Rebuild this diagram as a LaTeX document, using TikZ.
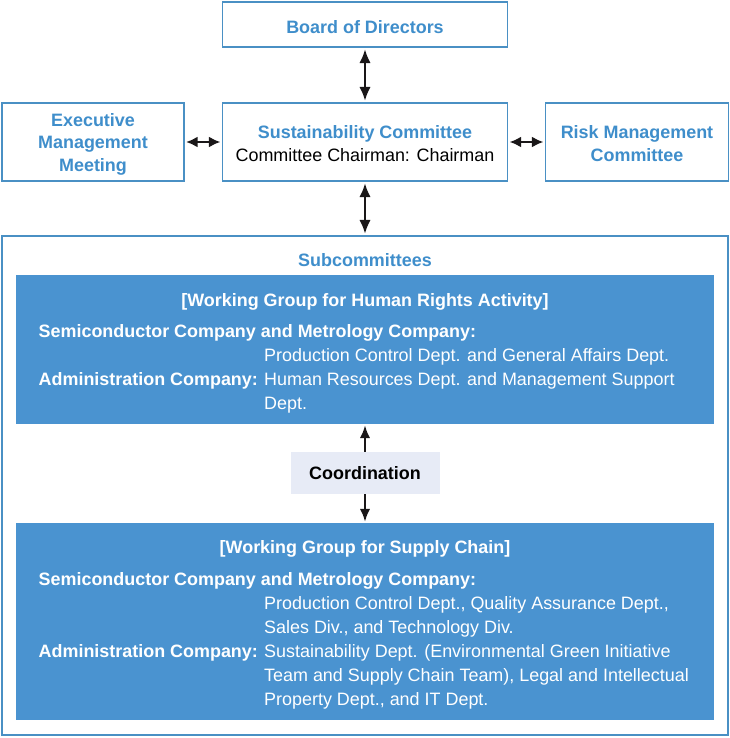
\documentclass[tikz,border=0pt]{standalone}
\usepackage{fontspec}
\setmainfont{Liberation Sans}
\usetikzlibrary{arrows.meta,calc}
\definecolor{bordblue}{HTML}{4A90C4}
\definecolor{txtblue}{HTML}{3F8ECB}
\definecolor{fillblue}{HTML}{4A93D0}
\definecolor{coordfill}{HTML}{E7EBF6}
\definecolor{arrowc}{HTML}{1A1718}
\tikzset{
  outbox/.style={draw=bordblue,line width=1.1bp,fill=white,inner sep=0pt},
  boxtxt/.style={inner sep=0pt,align=center,text=txtblue,font=\fontsize{18}{23}\selectfont\bfseries},
  bluebox/.style={fill=fillblue,inner sep=0pt},
  wtitle/.style={text=white,font=\fontsize{18}{23}\selectfont\bfseries,inner sep=0pt},
  wlab/.style={text=white,font=\fontsize{18}{23}\selectfont\bfseries,inner sep=0pt,anchor=base west},
  wtxt/.style={text=white,font=\fontsize{18}{23}\selectfont,inner sep=0pt,anchor=base west},
  vlink/.style={draw=arrowc,line width=2.6bp,shorten <=1.5bp,shorten >=1.5bp,{Latex[length=14bp,width=11.5bp]}-{Latex[length=14bp,width=11.5bp]}},
  hlink/.style={draw=arrowc,line width=2.6bp,shorten <=1.5bp,shorten >=1.5bp,{Latex[length=11.5bp,width=11bp]}-{Latex[length=11.5bp,width=11bp]}},
  uplink/.style={draw=arrowc,line width=2.4bp,shorten <=1bp,{Latex[length=13bp,width=10.5bp]}-},
  downlink/.style={draw=arrowc,line width=2.4bp,shorten >=1bp,-{Latex[length=13bp,width=10.5bp]}},
}
\begin{document}
\begin{tikzpicture}[x=1bp,y=-1bp]
\useasboundingbox (0,0) rectangle (730,738);
% top boxes
\node[outbox,minimum width=285bp,minimum height=45bp] (board) at (365,24.5) {};
\node[boxtxt] (boardtxt) at ([yshift=-2.2bp]board.center) {Board of Directors};
\node[outbox,minimum width=182bp,minimum height=78bp] (exec) at (93,142) {};
\node[boxtxt] (exectxt) at ([yshift=-2.4bp]exec.center) {Executive\\Management\\Meeting};
\node[outbox,minimum width=285bp,minimum height=78bp] (sust) at (365,142) {};
\node[boxtxt] (susttxt) at ([yshift=-1.6bp]sust.center) {Sustainability Committee\\{\color{black}\mdseries Committee Chairman: Chairman}};
\node[outbox,minimum width=183bp,minimum height=78bp] (risk) at (637,142) {};
\node[boxtxt] (risktxt) at ([yshift=-1.6bp]risk.center) {Risk Management\\Committee};
% outer subcommittees box
\node[draw=bordblue,line width=1.1bp,minimum width=726bp,minimum height=499bp,inner sep=0pt] (outer) at (365,485.5) {};
\node[text=txtblue,font=\fontsize{18}{23}\selectfont\bfseries,inner sep=0pt] (subtitle) at (365,260.5) {Subcommittees};
% blue box 1
\node[bluebox,minimum width=698bp,minimum height=149bp] (wg1) at (365,349.5) {};
\node[wtitle] (wg1t) at (365,301.5) {[Working Group for Human Rights Activity]};
\node[wlab] (wg1a) at (38.5,337.5) {Semiconductor Company and Metrology Company:};
\node[wtxt] (wg1b) at (264,361.5) {Production Control Dept. and General Affairs Dept.};
\node[wlab] (wg1c) at (38.5,385) {Administration Company:};
\node[wtxt] (wg1d) at (264,385) {Human Resources Dept. and Management Support};
\node[wtxt] (wg1e) at (264,409.5) {Dept.};
% coordination
\node[fill=coordfill,minimum width=149bp,minimum height=42bp,inner sep=0pt,font=\fontsize{18}{23}\selectfont\bfseries] (coord) at (365,473) {Coordination};
% blue box 2
\node[bluebox,minimum width=698bp,minimum height=197bp] (wg2) at (365,621.5) {};
\node[wtitle] (wg2t) at (365,549) {[Working Group for Supply Chain]};
\node[wlab] (wg2a) at (38.5,585) {Semiconductor Company and Metrology Company:};
\node[wtxt] (wg2b) at (264,609.5) {Production Control Dept., Quality Assurance Dept.,};
\node[wtxt] (wg2c) at (264,633.5) {Sales Div., and Technology Div.};
\node[wlab] (wg2d) at (38.5,657.5) {Administration Company:};
\node[wtxt] (wg2e) at (264,657.5) {Sustainability Dept. (Environmental Green Initiative};
\node[wtxt] (wg2f) at (264,681.5) {Team and Supply Chain Team), Legal and Intellectual};
\node[wtxt] (wg2g) at (264,705.5) {Property Dept., and IT Dept.};
% connectors
\draw[vlink] (board.south) -- (sust.north);
\draw[hlink] (exec.east) -- (sust.west);
\draw[hlink] (sust.east) -- (risk.west);
\draw[vlink] (sust.south) -- (sust.south |- outer.north);
\draw[uplink] (wg1.south) -- (coord.north);
\draw[downlink] (coord.south) -- (wg2.north);
\end{tikzpicture}
\end{document}
